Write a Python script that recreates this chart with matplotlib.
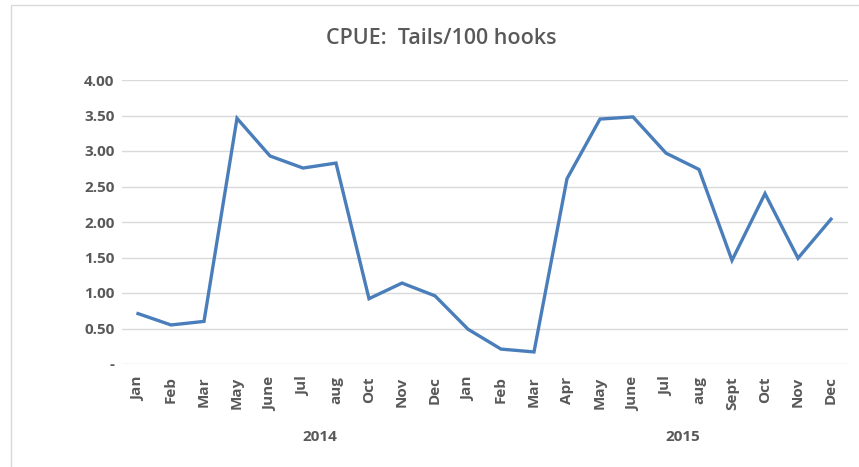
import matplotlib.pyplot as plt
from matplotlib.patches import Rectangle

# CPUE (tails per 100 hooks) by month
months_2014 = ['Jan', 'Feb', 'Mar', 'May', 'June', 'Jul', 'aug', 'Oct', 'Nov', 'Dec']
months_2015 = ['Jan', 'Feb', 'Mar', 'Apr', 'May', 'June', 'Jul', 'aug', 'Sept', 'Oct', 'Nov', 'Dec']
cpue_2014 = [0.71, 0.55, 0.60, 3.46, 2.93, 2.76, 2.83, 0.92, 1.14, 0.96]
cpue_2015 = [0.49, 0.21, 0.17, 2.61, 3.45, 3.48, 2.97, 2.74, 1.46, 2.40, 1.49, 2.04]
years = ['2014', '2015']
y_ticks = [0, 0.5, 1.0, 1.5, 2.0, 2.5, 3.0, 3.5, 4.0]

plt.rcParams['font.family'] = ['Open Sans', 'DejaVu Sans']
text_col = '#595959'
grid_col = '#d9d9d9'

labels = months_2014 + months_2015
values = cpue_2014 + cpue_2015
x = list(range(len(values)))

fig = plt.figure(figsize=(8.59, 4.67), dpi=100)
fig.patches.append(Rectangle((11 / 859, -0.1), 1.1, 1 - 5 / 467 + 0.1,
                             transform=fig.transFigure, fill=False,
                             edgecolor=grid_col, linewidth=1))

ax = fig.add_axes([121.5 / 859, 1 - 364 / 467, (847.5 - 121.5) / 859, (364 - 80) / 467])
ax.plot(x, values, color='#4a7ebb', linewidth=2.4, solid_joinstyle='miter')

ax.set_xlim(-0.5, len(values) - 0.5)
ax.set_ylim(0, 4)
ax.set_yticks(y_ticks)
ax.set_yticklabels(['-' if v == 0 else '%.2f' % v for v in y_ticks],
                   fontsize=11, fontweight='bold', color=text_col)
ax.set_xticks(x)
ax.set_xticklabels(labels, rotation=90, fontsize=11, fontweight='bold', color=text_col)
ax.tick_params(length=0, pad=9)
ax.tick_params(axis='y', pad=5)
ax.grid(axis='y', color=grid_col, linewidth=1)
ax.set_axisbelow(True)
for s in ax.spines.values():
    s.set_visible(False)

# year labels under each group of months
for pos, yr in zip([5.5, 16.5], years):
    ax.text(pos, -0.258, yr, transform=ax.get_xaxis_transform(), ha='center', va='center',
            fontsize=11, fontweight='bold', color=text_col)

fig.text(441 / 859, 1 - 39 / 467, 'CPUE:  Tails/100 hooks', ha='center', va='center',
         fontsize=15.5, fontweight='semibold', color=text_col)

fig.savefig('out.png', dpi=100)
